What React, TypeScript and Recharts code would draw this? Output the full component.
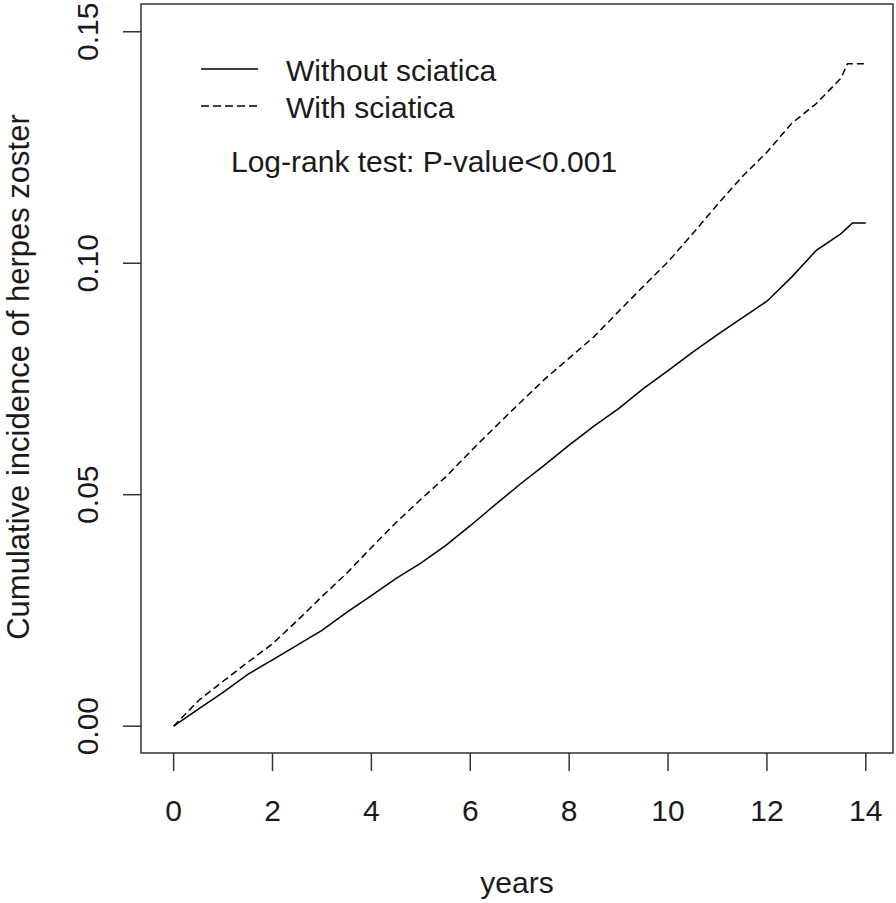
import React from 'react';
import { LineChart, Line, XAxis, YAxis, ReferenceArea } from 'recharts';

// follow-up time (years)
const years = [0, 0.5, 1, 1.5, 2, 2.5, 3, 3.5, 4, 4.5, 5, 5.5, 6, 6.5, 7, 7.5, 8, 8.5, 9, 9.5, 10, 10.5, 11, 11.5, 12, 12.5, 13, 13.5, 13.63, 13.73, 14];

// cumulative incidence
const withoutSciatica = [0, 0.0037, 0.0073, 0.0112, 0.0143, 0.0175, 0.0207, 0.0246, 0.0282, 0.0319, 0.0352, 0.039, 0.0433, 0.0478, 0.0522, 0.0564, 0.0607, 0.0648, 0.0686, 0.0729, 0.0768, 0.0808, 0.0846, 0.0882, 0.0918, 0.097, 0.1028, 0.1064, 0.1077, 0.1087, 0.1087];
const withSciatica = [0, 0.0055, 0.0097, 0.0138, 0.0178, 0.0228, 0.028, 0.033, 0.0386, 0.044, 0.049, 0.0538, 0.0593, 0.0646, 0.0698, 0.0749, 0.0795, 0.0841, 0.0896, 0.095, 0.1003, 0.1064, 0.1127, 0.1187, 0.124, 0.1302, 0.1345, 0.14, 0.1431, 0.1431, 0.1431];

const xTicks = [0, 2, 4, 6, 8, 10, 12, 14];
const yTicks = [0, 0.05, 0.1, 0.15];

const X_DOMAIN: [number, number] = [-0.66, 14.55];
const Y_DOMAIN: [number, number] = [-0.0058, 0.156];

const FONT = '"Liberation Sans", Arial, sans-serif';
const INK = '#1a1a1a';

const data = years.map((t, i) => ({ t, without: withoutSciatica[i], with: withSciatica[i] }));

const XTick = ({ x, payload }: any) => (
  <text x={x} y={821} textAnchor="middle" fontSize={30} fontFamily={FONT} fill={INK}>
    {payload.value}
  </text>
);

const YTick = ({ y, payload }: any) => (
  <text
    transform={`translate(98, ${y}) rotate(-90)`}
    textAnchor="middle"
    fontSize={30}
    fontFamily={FONT}
    fill={INK}
  >
    {Number(payload.value).toFixed(2)}
  </text>
);

export default function App() {
  return (
    <div style={{ position: 'absolute', left: 0, top: 0, width: 896, height: 903, background: '#fff' }}>
      <LineChart width={896} height={903} data={data} margin={{ top: 4, right: 3, bottom: 0, left: 0 }}>
        <XAxis
          dataKey="t"
          type="number"
          domain={X_DOMAIN}
          ticks={xTicks}
          interval={0}
          allowDataOverflow
          height={150}
          axisLine={false}
          tickSize={18}
          tickLine={{ stroke: '#333', strokeWidth: 1.5 }}
          tick={<XTick />}
        />
        <YAxis
          type="number"
          domain={Y_DOMAIN}
          ticks={yTicks}
          interval={0}
          allowDataOverflow
          width={141}
          axisLine={false}
          tickSize={18}
          tickLine={{ stroke: '#333', strokeWidth: 1.5 }}
          tick={<YTick />}
        />
        <ReferenceArea
          x1={X_DOMAIN[0]}
          x2={X_DOMAIN[1]}
          y1={Y_DOMAIN[0]}
          y2={Y_DOMAIN[1]}
          fill="none"
          fillOpacity={0}
          stroke="#333"
          strokeWidth={1.5}
          ifOverflow="visible"
        />
        <Line dataKey="without" type="linear" stroke="#000" strokeWidth={1.5} dot={false} isAnimationActive={false} />
        <Line dataKey="with" type="linear" stroke="#000" strokeWidth={1.5} strokeDasharray="7 4" dot={false} isAnimationActive={false} />
      </LineChart>
      <svg width={896} height={903} style={{ position: 'absolute', left: 0, top: 0, pointerEvents: 'none' }}>
        <g fontFamily={FONT} fill={INK}>
          <text transform="translate(29, 377) rotate(-90)" textAnchor="middle" fontSize={31}>
            Cumulative incidence of herpes zoster
          </text>
          <text x={517} y={893} textAnchor="middle" fontSize={30}>years</text>
          <text x={286} y={81} fontSize={30}>Without sciatica</text>
          <text x={286} y={118} fontSize={30}>With sciatica</text>
          <text x={231} y={172} fontSize={30}>Log-rank test: P-value&lt;0.001</text>
        </g>
        <line x1={201} x2={258} y1={69} y2={69} stroke="#000" strokeWidth={1.6} />
        <line x1={201} x2={257} y1={106} y2={106} stroke="#000" strokeWidth={1.6} strokeDasharray="8 4" />
      </svg>
    </div>
  );
}
